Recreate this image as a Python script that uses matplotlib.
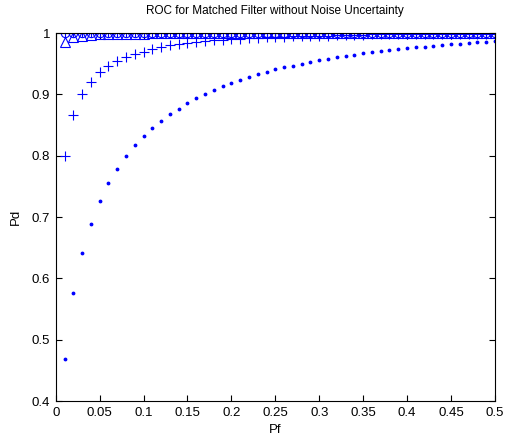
import numpy as np
import matplotlib
matplotlib.use("Agg")
import matplotlib.pyplot as plt

plt.rcParams['font.family'] = ['Liberation Sans', 'DejaVu Sans']

# false alarm probabilities
pf = np.round(np.arange(1, 51) * 0.01, 2)

# detection probabilities
pd_dot = [0.468, 0.576, 0.642, 0.689, 0.726, 0.755, 0.779, 0.799, 0.817, 0.832,
          0.845, 0.857, 0.868, 0.877, 0.886, 0.894, 0.901, 0.907, 0.913, 0.918,
          0.924, 0.928, 0.933, 0.937, 0.941, 0.944, 0.947, 0.950, 0.953, 0.956,
          0.958, 0.961, 0.963, 0.965, 0.967, 0.969, 0.971, 0.972, 0.974, 0.975,
          0.977, 0.978, 0.979, 0.980, 0.982, 0.983, 0.984, 0.985, 0.986, 0.987]
pd_plus = [0.800, 0.867, 0.900, 0.921, 0.936, 0.947, 0.955, 0.961, 0.966, 0.970,
           0.974, 0.977, 0.980, 0.982, 0.984, 0.985, 0.987, 0.988, 0.989, 0.990,
           0.991, 0.992, 0.992, 0.993, 0.994, 0.994, 0.995, 0.995, 0.996, 0.996,
           0.996, 0.997, 0.997, 0.997, 0.997, 0.998, 0.998, 0.998, 0.998, 0.998,
           0.998, 0.998, 0.999, 0.999, 0.999, 0.999, 0.999, 0.999, 0.999, 0.999]
pd_tri = [0.986, 0.993, 0.996, 0.997, 0.998, 0.998, 0.999, 0.999, 0.999, 0.999] + [1.0] * 40
pd_circ = [1.0] * 50
pd_star = [1.0] * 50

fig = plt.figure(figsize=(5.31, 4.36), dpi=100)
ax = fig.add_axes([0.105, 0.08, 0.827, 0.844])

ax.plot(pf, pd_dot, '.', color='blue', ms=3.5)
ax.plot(pf, pd_plus, '+', color='blue', ms=7, mew=0.8)
ax.plot(pf, pd_tri, '^', color='blue', ms=6.5, mfc='none', mew=0.8)
ax.plot(pf, pd_circ, 'o', color='blue', ms=6, mfc='none', mew=0.8)
ax.plot(pf, pd_star, '+', color='blue', ms=6, mew=0.8)

ax.set_xlim(0, 0.5)
ax.set_ylim(0.4, 1)
ax.set_xticks(np.arange(0, 0.51, 0.05))
ax.set_xticklabels(['0', '0.05', '0.1', '0.15', '0.2', '0.25', '0.3', '0.35', '0.4', '0.45', '0.5'])
ax.set_yticks(np.arange(0.4, 1.01, 0.1))
ax.set_yticklabels(['0.4', '0.5', '0.6', '0.7', '0.8', '0.9', '1'])
ax.tick_params(direction='in', length=4, labelsize=9.5, top=True, right=True,
               labeltop=False, labelright=False, pad=4)
ax.set_xlabel('Pf', fontsize=9.5, labelpad=4)
ax.set_ylabel('Pd', fontsize=9.5, labelpad=7)
ax.set_title('ROC for Matched Filter without Noise Uncertainty', fontsize=8.5, pad=14)
for s in ax.spines.values():
    s.set_linewidth(0.8)

fig.savefig('out.png', dpi=100)
